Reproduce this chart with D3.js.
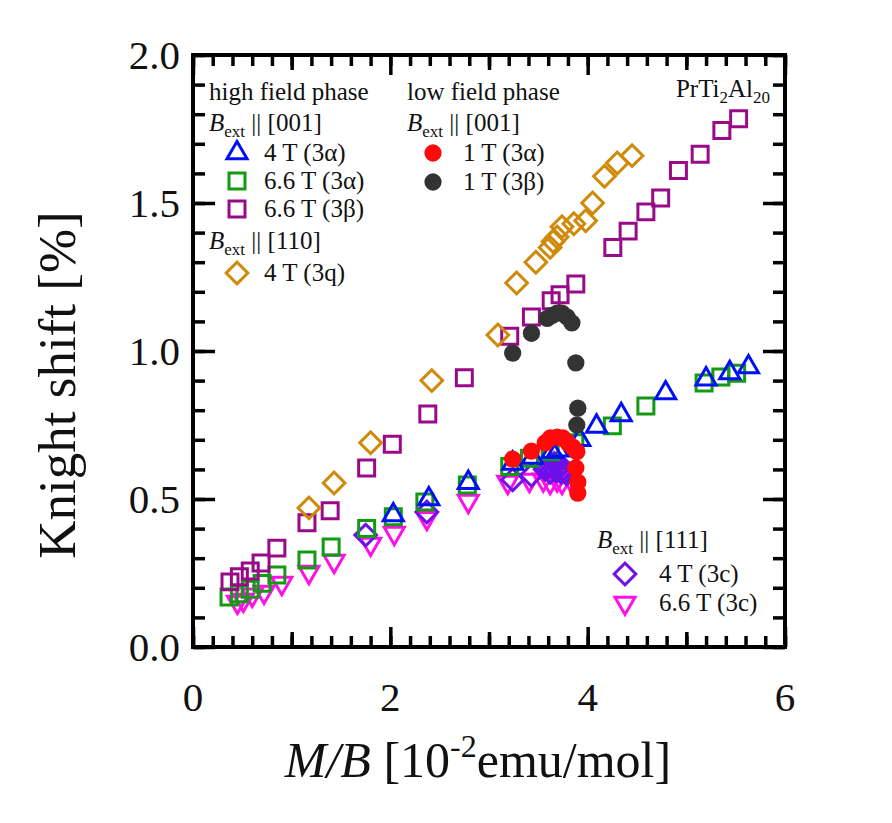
<!DOCTYPE html>
<html>
<head>
<meta charset="utf-8">
<script src="https://cdn.jsdelivr.net/npm/d3@7"></script>
<style>
  body { margin: 0; background: #fff; }
  svg text { font-family: "Liberation Serif", "DejaVu Serif", serif; fill: #111; }
</style>
</head>
<body>
<div class="canvas"></div>
<script>
// tick labels
const xTickLabels = [0, 2, 4, 6];
const yTickLabels = [0.0, 0.5, 1.0, 1.5, 2.0];

// high field phase, B || [001], 4 T (3 alpha) - blue triangles
const blueX = [2.03, 2.39, 2.79, 3.24, 3.44, 3.64, 3.70, 3.92, 4.09, 4.34, 4.79, 5.20, 5.44, 5.63];
const blueY = [0.446, 0.50, 0.555, 0.62, 0.64, 0.66, 0.665, 0.70, 0.745, 0.784, 0.858, 0.905, 0.926, 0.946];

// high field phase, B || [001], 6.6 T (3 alpha) - green squares
const greenX = [0.365, 0.47, 0.58, 0.70, 0.85, 1.155, 1.40, 1.76, 2.03, 2.35, 2.78, 3.21, 3.41, 3.62, 3.87, 4.25, 4.59, 5.18, 5.35, 5.51];
const greenY = [0.169, 0.18, 0.195, 0.215, 0.243, 0.294, 0.338, 0.40, 0.44, 0.49, 0.547, 0.61, 0.638, 0.66, 0.69, 0.747, 0.814, 0.892, 0.912, 0.925];

// high field phase, B || [001], 6.6 T (3 beta) - purple squares
const purpleX = [0.375, 0.47, 0.58, 0.69, 0.85, 1.155, 1.39, 1.76, 2.02, 2.38, 2.75, 3.21, 3.43, 3.63, 3.72, 3.88, 4.255, 4.41, 4.59, 4.74, 4.92, 5.14, 5.36, 5.53];
const purpleY = [0.22, 0.237, 0.257, 0.284, 0.334, 0.42, 0.46, 0.605, 0.685, 0.787, 0.91, 1.05, 1.115, 1.17, 1.19, 1.226, 1.35, 1.405, 1.47, 1.517, 1.61, 1.665, 1.745, 1.785];

// high field phase, B || [110], 4 T (3q) - orange diamonds
const orangeX = [1.175, 1.43, 1.80, 2.42, 3.09, 3.28, 3.475, 3.62, 3.65, 3.69, 3.74, 3.86, 3.98, 4.05, 4.17, 4.30, 4.45];
const orangeY = [0.47, 0.554, 0.69, 0.90, 1.054, 1.23, 1.30, 1.35, 1.37, 1.385, 1.42, 1.43, 1.44, 1.50, 1.59, 1.635, 1.66];

// low field phase, B || [001], 1 T (3 alpha) - red circles
const redX = [3.24, 3.43, 3.57, 3.62, 3.69, 3.75, 3.80, 3.85, 3.89, 3.88, 3.90, 3.90];
const redY = [0.635, 0.662, 0.69, 0.706, 0.709, 0.706, 0.69, 0.675, 0.66, 0.605, 0.557, 0.52];

// low field phase, B || [001], 1 T (3 beta) - dark circles
const darkX = [3.24, 3.43, 3.59, 3.64, 3.69, 3.74, 3.79, 3.84, 3.88, 3.90, 3.89];
const darkY = [0.993, 1.06, 1.11, 1.12, 1.128, 1.128, 1.115, 1.095, 0.96, 0.807, 0.75];

// B || [111], 4 T (3c) - violet diamonds
const violetX = [1.75, 2.37, 3.24, 3.43, 3.57, 3.60, 3.62, 3.63, 3.66, 3.68, 3.69, 3.72, 3.73, 3.75, 3.77, 3.79];
const violetY = [0.378, 0.456, 0.565, 0.58, 0.60, 0.61, 0.59, 0.615, 0.62, 0.595, 0.62, 0.615, 0.59, 0.60, 0.59, 0.585];

// B || [111], 6.6 T (3c) - magenta down triangles
const magentaX = [0.45, 0.51, 0.60, 0.72, 0.90, 1.175, 1.43, 1.80, 2.04, 2.37, 2.79, 3.19, 3.41, 3.55, 3.62, 3.69, 3.74, 3.82];
const magentaY = [0.152, 0.159, 0.176, 0.186, 0.216, 0.253, 0.29, 0.348, 0.385, 0.435, 0.493, 0.557, 0.564, 0.565, 0.557, 0.565, 0.557, 0.57];

const W = 892, H = 823;
const svg = d3.select('.canvas')
    .append('svg')
    .attr('width', W)
    .attr('height', H);

const x = d3.scaleLinear().domain([0, 6]).range([193, 785]);
const y = d3.scaleLinear().domain([0, 2]).range([647, 55]);

// symbols
const sym = (type, size) => d3.symbol().type(type).size(size)();
const shapes = {
    square: { d: sym(d3.symbolSquare, 255), rot: 0 },
    diamond: { d: sym(d3.symbolSquare, 235), rot: 45 },
    tri: { d: sym(d3.symbolTriangle, 175), rot: 0 },
    triDown: { d: sym(d3.symbolTriangle, 175), rot: 180 },
    circle: { d: sym(d3.symbolCircle, 235), rot: 0 }
};

const series = [
    { xs: magentaX, ys: magentaY, shape: 'triDown', color: '#ff10e8', fill: false },
    { xs: violetX, ys: violetY, shape: 'diamond', color: '#6f10e8', fill: false },
    { xs: greenX, ys: greenY, shape: 'square', color: '#129a12', fill: false },
    { xs: blueX, ys: blueY, shape: 'tri', color: '#0010f5', fill: false },
    { xs: purpleX, ys: purpleY, shape: 'square', color: '#990a88', fill: false },
    { xs: orangeX, ys: orangeY, shape: 'diamond', color: '#d08a0a', fill: false },
    { xs: darkX, ys: darkY, shape: 'circle', color: '#333333', fill: true },
    { xs: redX, ys: redY, shape: 'circle', color: '#ff0a0a', fill: true }
];

const drawMark = (g, shape, color, fill, px, py) => {
    const s = shapes[shape];
    g.append('path')
        .attr('d', s.d)
        .attr('transform', `translate(${px},${py}) rotate(${s.rot})`)
        .attr('fill', fill ? color : 'none')
        .attr('stroke', fill ? 'none' : color)
        .attr('stroke-width', 3);
};

const marks = svg.append('g');
series.forEach(s => {
    s.xs.forEach((v, i) => drawMark(marks, s.shape, s.color, s.fill, x(v), y(s.ys[i])));
});

// axes: inward ticks on all four sides
const axisStyle = g => {
    g.select('.domain').remove();
    g.selectAll('line').attr('stroke', '#000').attr('stroke-width', 3.5);
    g.selectAll('text').remove();
};
const xMinor = d3.range(0, 31).map(i => i * 0.2);
const xMid = [1, 3, 5];
const yMinor = d3.range(0, 21).map(i => i * 0.1);

const addX = (vals, len) => {
    svg.append('g').attr('transform', `translate(0,${y(0)})`)
        .call(d3.axisBottom(x).tickValues(vals).tickSize(-len)).call(axisStyle);
    svg.append('g').attr('transform', `translate(0,${y(2)})`)
        .call(d3.axisTop(x).tickValues(vals).tickSize(-len)).call(axisStyle);
};
const addY = (vals, len) => {
    svg.append('g').attr('transform', `translate(${x(0)},0)`)
        .call(d3.axisLeft(y).tickValues(vals).tickSize(-len)).call(axisStyle);
    svg.append('g').attr('transform', `translate(${x(6)},0)`)
        .call(d3.axisRight(y).tickValues(vals).tickSize(-len)).call(axisStyle);
};
addX(xMinor, 11);
addX(xMid, 15);
addX(xTickLabels, 20);
addY(yMinor, 12);
addY(yTickLabels, 22);

// frame
svg.append('rect')
    .attr('x', x(0)).attr('y', y(2))
    .attr('width', x(6) - x(0)).attr('height', y(0) - y(2))
    .attr('fill', 'none').attr('stroke', '#000').attr('stroke-width', 4);

// tick labels
svg.append('g').selectAll('text').data(xTickLabels).join('text')
    .attr('x', d => x(d)).attr('y', 711)
    .attr('text-anchor', 'middle').attr('font-size', 41)
    .text(d => d);
svg.append('g').selectAll('text').data(yTickLabels).join('text')
    .attr('x', 180).attr('y', d => y(d) + 14)
    .attr('text-anchor', 'end').attr('font-size', 41)
    .text(d => d.toFixed(1));

// axis titles
svg.append('text')
    .attr('transform', 'translate(75,385) rotate(-90)')
    .attr('text-anchor', 'middle').attr('font-size', 53)
    .text('Knight shift [%]');

const xt = svg.append('text')
    .attr('x', 478).attr('y', 777)
    .attr('text-anchor', 'middle').attr('font-size', 50);
xt.append('tspan').attr('font-style', 'italic').text('M/B');
xt.append('tspan').text(' [10');
xt.append('tspan').attr('font-size', 32).attr('dy', -20).text('-2');
xt.append('tspan').attr('dy', 20).text('emu/mol]');

// legend helpers
const fs = 25;
const plain = (tx, ty, str) => svg.append('text').attr('x', tx).attr('y', ty).attr('font-size', fs).text(str);
const bext = (tx, ty, dir) => {
    const t = svg.append('text').attr('x', tx).attr('y', ty).attr('font-size', fs);
    t.append('tspan').attr('font-style', 'italic').text('B');
    t.append('tspan').attr('font-size', 17).attr('dy', 6).text('ext');
    t.append('tspan').attr('dy', -6).text(' || ' + dir);
};
const entry = (mx, my, shape, color, fill, str, gap) => {
    drawMark(svg, shape, color, fill, mx, my);
    plain(mx + gap, my + 8, str);
};

plain(209, 100, 'high field phase');
bext(209, 131, '[001]');
entry(237, 153, 'tri', '#0010f5', false, '4 T (3α)', 27);
entry(237, 181, 'square', '#129a12', false, '6.6 T (3α)', 27);
entry(237, 209, 'square', '#990a88', false, '6.6 T (3β)', 27);
bext(209, 249, '[110]');
entry(237, 273, 'diamond', '#d08a0a', false, '4 T (3q)', 27);

plain(407, 100, 'low field phase');
bext(407, 131, '[001]');
entry(433, 153, 'circle', '#ff0a0a', true, '1 T (3α)', 30);
entry(433, 182, 'circle', '#333333', true, '1 T (3β)', 30);

bext(597, 548, '[111]');
entry(625, 574, 'diamond', '#6f10e8', false, '4 T (3c)', 34);
entry(625, 603, 'triDown', '#ff10e8', false, '6.6 T (3c)', 34);

// compound label
const pt = svg.append('text').attr('x', 770).attr('y', 97)
    .attr('text-anchor', 'end').attr('font-size', fs);
pt.append('tspan').text('PrTi');
pt.append('tspan').attr('font-size', 17).attr('dy', 6).text('2');
pt.append('tspan').attr('dy', -6).text('Al');
pt.append('tspan').attr('font-size', 17).attr('dy', 6).text('20');
</script>
</body>
</html>
